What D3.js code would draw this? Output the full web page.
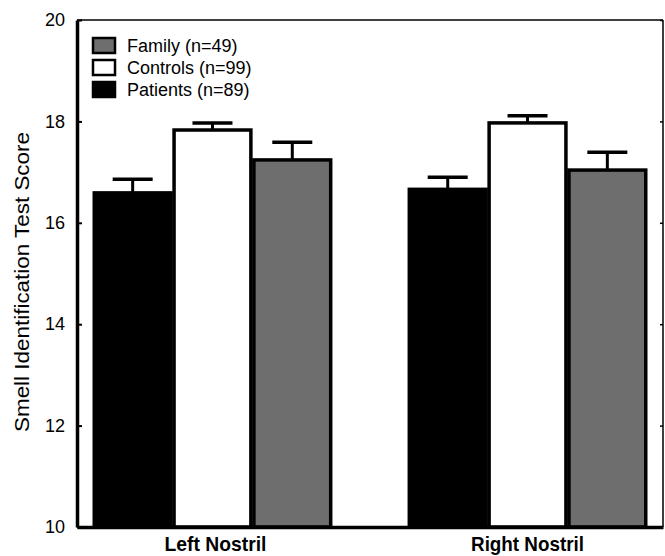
<!DOCTYPE html>
<html>
<head>
<meta charset="utf-8">
<script src="https://cdn.jsdelivr.net/npm/d3@7"></script>
<style>
  body { margin: 0; background: #fff; }
  text { font-family: "Liberation Sans", Arial, sans-serif; }
</style>
</head>
<body>
<svg class="chart" width="665" height="556"></svg>
<script>
// data
var nostrils = ["Left Nostril", "Right Nostril"];
var groups = ["Patients", "Controls", "Family"];
var groupLabels = ["Family (n=49)", "Controls (n=99)", "Patients (n=89)"];
var legendGroups = ["Family", "Controls", "Patients"];
var patients = [16.59, 16.66];
var controls = [17.83, 17.97];
var family = [17.24, 17.04];
var patientsErr = [0.27, 0.24];
var controlsErr = [0.14, 0.14];
var familyErr = [0.35, 0.35];
var yTicks = [10, 12, 14, 16, 18, 20];

var colors = { Patients: "#000", Controls: "#fff", Family: "#6e6e6e" };

var svg = d3.select(".chart"),
    margin = { top: 20, right: 2, bottom: 29, left: 77 },
    width = +svg.attr("width") - margin.left - margin.right,
    height = +svg.attr("height") - margin.top - margin.bottom;

var x0 = d3.scaleBand().domain(nostrils).range([0, width])
    .paddingInner(0.24).paddingOuter(0.05);
var x1 = d3.scaleBand().domain(groups).range([0, x0.bandwidth()]);
var y = d3.scaleLinear().domain([10, 20]).range([height, 0]);

var data = [];
nostrils.forEach(function(n, i) {
    data.push({ nostril: n, group: "Patients", value: patients[i], err: patientsErr[i] });
    data.push({ nostril: n, group: "Controls", value: controls[i], err: controlsErr[i] });
    data.push({ nostril: n, group: "Family", value: family[i], err: familyErr[i] });
});

var g = svg.append("g")
    .attr("transform", "translate(" + margin.left + "," + margin.top + ")");

// error bars (behind bars)
var eb = g.append("g").attr("class", "errbars");
eb.selectAll("line.stem")
    .data(data)
    .enter().append("line")
    .attr("x1", function(d) { return x0(d.nostril) + x1(d.group) + x1.bandwidth() / 2; })
    .attr("x2", function(d) { return x0(d.nostril) + x1(d.group) + x1.bandwidth() / 2; })
    .attr("y1", function(d) { return y(d.value); })
    .attr("y2", function(d) { return y(d.value + d.err); })
    .attr("stroke", "#000").attr("stroke-width", 3);
eb.selectAll("line.cap")
    .data(data)
    .enter().append("line")
    .attr("x1", function(d) { return x0(d.nostril) + x1(d.group) + x1.bandwidth() / 2 - 20; })
    .attr("x2", function(d) { return x0(d.nostril) + x1(d.group) + x1.bandwidth() / 2 + 20; })
    .attr("y1", function(d) { return y(d.value + d.err); })
    .attr("y2", function(d) { return y(d.value + d.err); })
    .attr("stroke", "#000").attr("stroke-width", 3.5);

g.selectAll(".bar")
    .data(data)
    .enter().append("rect")
    .attr("class", "bar")
    .attr("x", function(d) { return x0(d.nostril) + x1(d.group) + 1.5; })
    .attr("y", function(d) { return y(d.value); })
    .attr("width", x1.bandwidth() - 3)
    .attr("height", function(d) { return height - y(d.value); })
    .attr("fill", function(d) { return colors[d.group]; })
    .attr("stroke", "#000")
    .attr("stroke-width", 3.5);

// frame
g.append("line").attr("x1", 0).attr("x2", width).attr("y1", 0).attr("y2", 0)
    .attr("stroke", "#000").attr("stroke-width", 1.5);
g.append("line").attr("x1", width).attr("x2", width).attr("y1", 0).attr("y2", height)
    .attr("stroke", "#000").attr("stroke-width", 1.5);

// right axis ticks
g.append("g")
    .attr("transform", "translate(" + width + ",0)")
    .call(d3.axisLeft(y).tickValues(yTicks).tickSize(3).tickFormat(""))
    .call(function(a) { a.select(".domain").remove(); })
    .selectAll("line").attr("stroke-width", 1.5);

// left axis
var ya = g.append("g")
    .call(d3.axisLeft(y).tickValues(yTicks).tickSizeInner(-5).tickSizeOuter(0).tickPadding(12));
ya.select(".domain").attr("stroke-width", 3.5);
ya.selectAll("line").attr("stroke-width", 2);
ya.selectAll("text").attr("font-size", 18).attr("fill", "#000")
    .attr("font-family", "'Liberation Sans', Arial, sans-serif");

// bottom axis
var labelLen = { "Left Nostril": 102, "Right Nostril": 113 };
var xa = g.append("g")
    .attr("transform", "translate(0," + height + ")")
    .call(d3.axisBottom(x0).tickSize(0));
xa.select(".domain").attr("stroke-width", 3.5);
xa.selectAll("text").attr("font-size", 21).attr("font-weight", "bold").attr("fill", "#000")
    .attr("font-family", "'Liberation Sans Narrow', 'Arial Narrow', 'Liberation Sans', sans-serif")
    .attr("y", 24).attr("dy", 0)
    .attr("dx", function(d, i) { return i === 0 ? 3 : 0; })
    .attr("textLength", function(d) { return labelLen[d]; })
    .attr("lengthAdjust", "spacingAndGlyphs");

// y label
g.append("text")
    .attr("transform", "rotate(-90)")
    .attr("x", -262)
    .attr("y", -margin.left + 29)
    .attr("text-anchor", "middle")
    .attr("font-size", 20)
    .attr("textLength", 300).attr("lengthAdjust", "spacingAndGlyphs")
    .text("Smell Identification Test Score");

// legend
var lg = g.append("g").attr("transform", "translate(16,18)");
var li = lg.selectAll(".leg")
    .data(legendGroups)
    .enter().append("g")
    .attr("transform", function(d, i) { return "translate(0," + (i * 22) + ")"; });
li.append("rect")
    .attr("width", 22).attr("height", 15)
    .attr("fill", function(d) { return colors[d]; })
    .attr("stroke", "#000").attr("stroke-width", 2.5);
li.append("text")
    .attr("x", 34).attr("y", 14)
    .attr("font-size", 18)
    .text(function(d, i) { return groupLabels[i]; });
</script>
</body>
</html>
